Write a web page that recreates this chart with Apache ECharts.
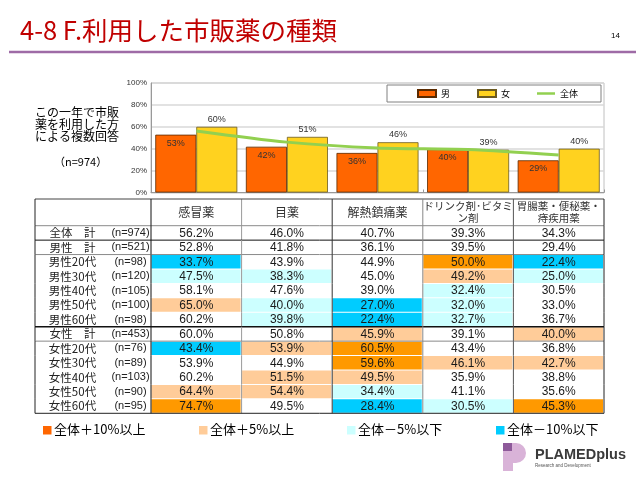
<!DOCTYPE html>
<html><head><meta charset="utf-8">
<script src="https://cdn.jsdelivr.net/npm/echarts@6/dist/echarts.min.js"></script>
<style>html,body{margin:0;padding:0;background:#fff}#c{width:640px;height:480px}</style>
</head><body><div id="c"></div>
<script>
// ---- data ----
const categories = ['感冒薬', '目薬', '解熱鎮痛薬', 'ドリンク剤･ビタミン剤', '胃腸薬・便秘薬・痔疾用薬'];
const headerLabels = ['感冒薬', '目薬', '解熱鎮痛薬', 'ドリンク剤･ビタミ\nン剤', '胃腸薬・便秘薬・\n痔疾用薬'];
const rowNames = ['全体　計', '男性　計', '男性20代', '男性30代', '男性40代', '男性50代', '男性60代',
                  '女性　計', '女性20代', '女性30代', '女性40代', '女性50代', '女性60代'];
const rowN = ['(n=974)', '(n=521)', '(n=98)', '(n=120)', '(n=105)', '(n=100)', '(n=98)',
              '(n=453)', '(n=76)', '(n=89)', '(n=103)', '(n=90)', '(n=95)'];
const cold    = [56.2, 52.8, 33.7, 47.5, 58.1, 65.0, 60.2, 60.0, 43.4, 53.9, 60.2, 64.4, 74.7];
const eye     = [46.0, 41.8, 43.9, 38.3, 47.6, 40.0, 39.8, 50.8, 53.9, 44.9, 51.5, 54.4, 49.5];
const fever   = [40.7, 36.1, 44.9, 45.0, 39.0, 27.0, 22.4, 45.9, 60.5, 59.6, 49.5, 34.4, 28.4];
const drink   = [39.3, 39.5, 50.0, 49.2, 32.4, 32.0, 32.7, 39.1, 43.4, 46.1, 35.9, 41.1, 30.5];
const stomach = [34.3, 29.4, 22.4, 25.0, 30.5, 33.0, 36.7, 40.0, 36.8, 42.7, 38.8, 35.6, 45.3];
const seriesNames = ['男', '女', '全体'];
const keyLabels = ['全体＋10%以上', '全体＋5%以上', '全体－5%以下', '全体－10%以下'];

// ---- derived ----
const columns = [cold, eye, fever, drink, stomach];
const overall = columns.map(c => c[0]);
const male = columns.map(c => c[1]);
const female = columns.map(c => c[7]);
const bodyData = [];
columns.forEach((col, ci) => col.forEach((v, ri) => bodyData.push([ci, ri, v])));
const headerData = categories.map((c, i) => [i, 0]);

// ---- styles ----
const CJK = 'Noto Sans CJK JP';
const LAT = 'Liberation Sans';
const GL = 151, GR = 36;
const LABEL_W = 116;
const keyColors = ['#FF6600', '#FFCC99', '#CCFFFF', '#00CCFF'];
const colRight = ['#9a9a9a', '#333', '#888', '#555', '#222'];
const sepAfter = {0: '#111', 1: '#8a8a8a', 6: '#111', 7: '#8a8a8a', 12: '#222'};
function cellColor(d) {
  if (d >= 10) return '#FF9900';
  if (d >= 5) return '#FFCC99';
  if (d <= -10) return '#00CCFF';
  if (d <= -5) return '#CCFFFF';
  return null;
}
function ln(x1, y1, x2, y2, c, w) {
  return {type: 'line', z2: 10, shape: {x1: x1, y1: y1, x2: x2, y2: y2}, style: {stroke: c, lineWidth: w || 1}};
}

function renderBody(params, api) {
  const col = api.value(0), row = api.value(1), v = api.value(2);
  const c = api.coord([col, row]);
  const s = api.size([1, 1]);
  const x0 = c[0] - s[0] / 2, y0 = c[1] - s[1] / 2, w = s[0], h = s[1];
  const ch = [];
  const fill = cellColor(v - overall[col]);
  if (fill) ch.push({type: 'rect', z2: 1, shape: {x: x0 + 0.5, y: y0 + 0.5, width: w - 1.5, height: h - 1}, style: {fill: fill}});
  ch.push({type: 'text', z2: 5, style: {text: v.toFixed(1) + '%', x: c[0], y: c[1] + 0.5, align: 'center', verticalAlign: 'middle',
    fontSize: 12, fontFamily: LAT, fill: '#1a1a1a'}});
  ch.push(ln(x0 + w, y0, x0 + w, y0 + h, colRight[col]));
  if (col === 0) {
    const tl = x0 - LABEL_W, tr = x0 + w * categories.length;
    ch.push(ln(x0, y0, x0, y0 + h, '#111'));
    ch.push(ln(tl, y0, tl, y0 + h, '#222'));
    if (sepAfter[row]) ch.push(ln(tl, y0 + h, tr, y0 + h, sepAfter[row], row === 6 ? 1.5 : 1));
  }
  return {type: 'group', children: ch};
}

function renderHeader(params, api) {
  const col = api.value(0);
  const c = api.coord([col, 0]);
  const s = api.size([1, 1]);
  const x0 = c[0] - s[0] / 2, y0 = c[1] - s[1] / 2, w = s[0], h = s[1];
  const two = headerLabels[col].indexOf('\n') >= 0;
  const ch = [];
  ch.push({type: 'text', z2: 5, style: {text: headerLabels[col], x: c[0], y: c[1], align: 'center', verticalAlign: 'middle',
    fontSize: two ? 10.5 : 12, lineHeight: 12, fontFamily: CJK, fill: '#333'}});
  ch.push(ln(x0 + w, y0, x0 + w, y0 + h, colRight[col]));
  if (col === 0) {
    const tl = x0 - LABEL_W, tr = x0 + w * categories.length;
    ch.push(ln(tl, y0, tr, y0, '#444'));
    ch.push(ln(tl, y0 + h, tr, y0 + h, '#8a8a8a'));
    ch.push(ln(x0, y0, x0, y0 + h, '#111'));
    ch.push(ln(tl, y0, tl, y0 + h, '#222'));
  }
  return {type: 'group', children: ch};
}

const legendGraphics = [];
const keyX = [43, 199, 347, 496];
keyLabels.forEach((t, i) => {
  legendGraphics.push({type: 'rect', x: keyX[i], y: 426, shape: {x: 0, y: 0, width: 8.5, height: 8.5}, style: {fill: keyColors[i]}});
  legendGraphics.push({type: 'text', x: keyX[i] + 11, y: 423, style: {text: t, fontSize: 13, fontFamily: CJK, fill: '#000'}});
});

const chart = echarts.init(document.getElementById('c'));
chart.setOption({
  animation: false,
  backgroundColor: '#fff',
  grid: [
    {left: GL, right: GR, top: 83, height: 109.5, show: true, borderColor: '#C0C0C0', borderWidth: 1},
    {left: GL, right: GR, top: 199, height: 26.7},
    {left: GL, right: GR, top: 225.7, height: 187.6}
  ],
  xAxis: [
    {gridIndex: 0, type: 'category', data: categories, axisLabel: {show: false},
      axisLine: {lineStyle: {color: '#999'}}, axisTick: {show: true, inside: true, length: 3, lineStyle: {color: '#999'}}},
    {gridIndex: 1, type: 'category', data: categories, show: false},
    {gridIndex: 2, type: 'category', data: categories, show: false}
  ],
  yAxis: [
    {gridIndex: 0, type: 'value', min: 0, max: 100, interval: 20,
      axisLabel: {formatter: '{value}%', fontSize: 8, fontFamily: LAT, color: '#333', margin: 4},
      axisLine: {show: true, lineStyle: {color: '#999'}}, axisTick: {show: false},
      splitLine: {lineStyle: {color: '#D9D9D9', width: 1.5}}},
    {gridIndex: 1, type: 'category', data: ['h'], show: false},
    {gridIndex: 2, type: 'category', data: rowNames, inverse: true,
      axisLine: {show: false}, axisTick: {show: false}, splitLine: {show: false},
      axisLabel: {margin: 0, interval: 0,
        formatter: (v, i) => '{a|' + v + '}{b|' + rowN[i] + '}',
        rich: {
          a: {width: 75, align: 'center', fontSize: 11.5, fontFamily: CJK, color: '#222'},
          b: {width: 41, align: 'center', fontSize: 11, fontFamily: LAT, color: '#222'}
        }}}
  ],
  legend: {
    left: 387, top: 85, padding: [4, 23, 4, 30], itemGap: 27, itemWidth: 18, itemHeight: 7,
    borderColor: '#808080', borderWidth: 1, backgroundColor: '#fff',
    textStyle: {fontSize: 9, color: '#000', fontFamily: CJK},
    data: [{name: seriesNames[0], icon: 'rect'}, {name: seriesNames[1], icon: 'rect'},
           {name: seriesNames[2], icon: 'path://M0,0 L18,0 L18,2.5 L0,2.5 Z'}]
  },
  series: [
    {name: seriesNames[0], type: 'bar', xAxisIndex: 0, yAxisIndex: 0, data: male, barWidth: 41, barGap: '0%',
      itemStyle: {color: '#FF6600', borderColor: '#5a2a00', borderWidth: 0.8},
      label: {show: true, position: 'insideTop', distance: 4, fontSize: 9, fontFamily: LAT, color: '#333',
        formatter: p => Math.round(p.value) + '%'}},
    {name: seriesNames[1], type: 'bar', xAxisIndex: 0, yAxisIndex: 0, data: female, barWidth: 41,
      itemStyle: {color: '#FFD21F', borderColor: '#6b5a20', borderWidth: 0.8},
      label: {show: true, position: 'top', distance: 3, fontSize: 9, fontFamily: LAT, color: '#333',
        formatter: p => Math.round(p.value) + '%'}},
    {name: seriesNames[2], type: 'line', xAxisIndex: 0, yAxisIndex: 0, data: overall, smooth: 0.3,
      symbol: 'none', z: 5, itemStyle: {color: '#92D050'}, lineStyle: {color: '#92D050', width: 3}},
    {type: 'custom', xAxisIndex: 1, yAxisIndex: 1, data: headerData, renderItem: renderHeader, clip: false, z: 3},
    {type: 'custom', xAxisIndex: 2, yAxisIndex: 2, data: bodyData, renderItem: renderBody, clip: false, z: 3}
  ],
  graphic: {elements: [
    {type: 'text', x: 20, y: 18, style: {text: '4-8 F.利用した市販薬の種類', fontSize: 25.5, fontFamily: CJK, fill: '#C00000'}},
    {type: 'text', x: 611, y: 32, style: {text: '14', fontSize: 8, fontFamily: LAT, fill: '#000'}},
    {type: 'line', shape: {x1: 9, y1: 52, x2: 636, y2: 52}, style: {stroke: '#9E6BA6', lineWidth: 2.5}},
    {type: 'text', x: 35, y: 106, style: {text: 'この一年で市販\n薬を利用した方\nによる複数回答', fontSize: 12, lineHeight: 12, fontFamily: CJK, fill: '#000'}},
    {type: 'text', x: 54, y: 156, style: {text: '（n=974）', fontSize: 11, fontFamily: CJK, fill: '#000'}},
    ...legendGraphics,
    {type: 'rect', x: 503, y: 443, shape: {x: 0, y: 0, width: 10, height: 28}, style: {fill: '#D9B3D8'}},
    {type: 'rect', x: 512, y: 443, shape: {x: 0, y: 0, width: 14, height: 20, r: [0, 10, 10, 0]}, style: {fill: '#D9B3D8'}},
    {type: 'rect', x: 503, y: 443, shape: {x: 0, y: 0, width: 9, height: 8}, style: {fill: '#8E5A9A'}},
    {type: 'text', x: 535, y: 447, style: {text: 'PLAMEDplus', fontSize: 14.5, fontWeight: 'bold', fontFamily: LAT, fill: '#3a3a3a'}},
    {type: 'text', x: 535, y: 463, style: {text: 'Research and Development', fontSize: 4.5, fontFamily: LAT, fill: '#555'}}
  ]}
});
</script></body></html>
